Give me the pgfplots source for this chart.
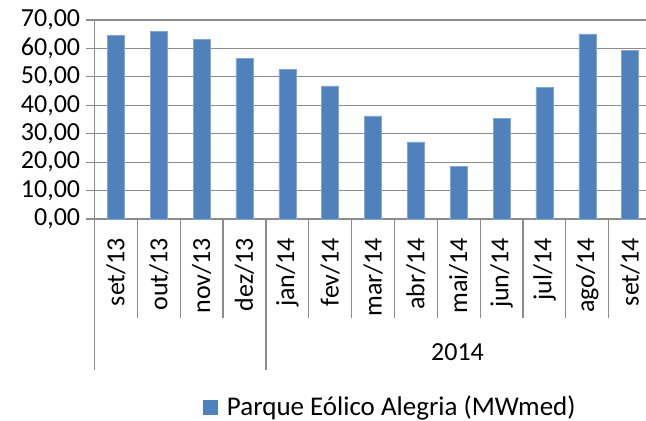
\documentclass[border=0pt]{standalone}
\usepackage{fontspec}
\setmainfont{Carlito}
\usepackage{pgfplots}
\pgfplotsset{compat=1.18}
\definecolor{barblue}{HTML}{4F81BD}
\definecolor{gridgray}{HTML}{8C8C8C}
\begin{document}
\begin{tikzpicture}[font=\fontsize{13pt}{15.6pt}\selectfont]
\useasboundingbox (0,0) rectangle (323pt,210.5pt);
\begin{axis}[
  at={(47.25pt,101pt)}, anchor=south west,
  scale only axis, width=275.75pt, height=99.5pt,
  xmin=-0.5, xmax=12.37, ymin=0, ymax=70,
  ytick={0,10,...,70},
  xtick={0,...,12},
  xticklabels={set/13,out/13,nov/13,dez/13,jan/14,fev/14,mar/14,abr/14,mai/14,jun/14,jul/14,ago/14,set/14},
  axis x line=bottom, axis y line=left,
  axis line style={-, gridgray, line width=0.6pt},
  ymajorgrids, grid style={gridgray, line width=0.6pt},
  tick align=outside, major tick length=4pt,
  ytick style={gridgray, line width=0.6pt},
  xtick style={draw=none},
  /pgf/number format/assume math mode=true,
  yticklabel={\pgfmathprintnumber[fixed,fixed zerofill,precision=2,use comma]{\tick}},
  yticklabel style={anchor=east, inner sep=0pt, xshift=-3pt},
  xticklabel style={yshift=-5.3pt, rotate=90, anchor=east, inner sep=0pt},
  clip=false,
  legend style={at={(0.1967,-0.9447)}, anchor=west, draw=none, fill=none, inner sep=0pt, column sep=4.5pt, nodes={inner sep=0pt, font=\fontsize{13.5pt}{16pt}\selectfont}},
  legend image code/.code={\fill[barblue] (0pt,-3.5pt) rectangle (7pt,3.5pt);},
]
\addplot[ybar, bar width=8.5pt, fill=barblue, draw=barblue!70!white, line width=0.3pt] coordinates {
  (0,64.7) (1,66.0) (2,63.1) (3,56.5) (4,52.7) (5,46.8) (6,36.3)
  (7,27.1) (8,18.6) (9,35.5) (10,46.4) (11,65.1) (12,59.4)
};
\addlegendentry{Parque Eólico Alegria (MWmed)}
\draw[gridgray, line width=0.6pt] (axis cs:-0.5,0) -- ++(0pt,-75.5pt);
\draw[gridgray, line width=0.6pt] (axis cs:3.5,0) -- ++(0pt,-75.5pt);
\draw[gridgray, line width=0.6pt] (axis cs:0.5,0) -- ++(0pt,-49.5pt);
\draw[gridgray, line width=0.6pt] (axis cs:1.5,0) -- ++(0pt,-49.5pt);
\draw[gridgray, line width=0.6pt] (axis cs:2.5,0) -- ++(0pt,-49.5pt);
\draw[gridgray, line width=0.6pt] (axis cs:4.5,0) -- ++(0pt,-49.5pt);
\draw[gridgray, line width=0.6pt] (axis cs:5.5,0) -- ++(0pt,-49.5pt);
\draw[gridgray, line width=0.6pt] (axis cs:6.5,0) -- ++(0pt,-49.5pt);
\draw[gridgray, line width=0.6pt] (axis cs:7.5,0) -- ++(0pt,-49.5pt);
\draw[gridgray, line width=0.6pt] (axis cs:8.5,0) -- ++(0pt,-49.5pt);
\draw[gridgray, line width=0.6pt] (axis cs:9.5,0) -- ++(0pt,-49.5pt);
\draw[gridgray, line width=0.6pt] (axis cs:10.5,0) -- ++(0pt,-49.5pt);
\draw[gridgray, line width=0.6pt] (axis cs:11.5,0) -- ++(0pt,-49.5pt);
\end{axis}
\node at (228.75pt,34.25pt) {2014};
\end{tikzpicture}
\end{document}
